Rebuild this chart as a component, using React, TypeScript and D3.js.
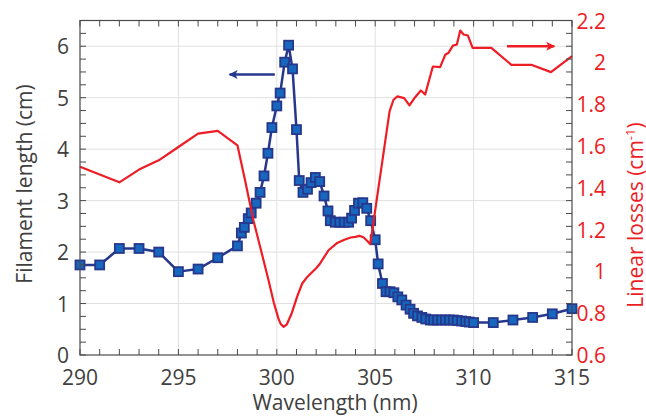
import React from "react";
import * as d3 from "d3";

const blueX = [290,291,292,293,294,295,296,297,298,298.2,298.35,298.55,298.7,298.95,299.15,299.35,299.55,299.75,300.0,300.17,300.4,300.6,300.8,301.0,301.14,301.33,301.56,301.74,301.96,302.18,302.4,302.6,302.72,302.97,303.2,303.43,303.65,303.8,303.95,304.15,304.37,304.57,304.77,305.0,305.15,305.37,305.55,305.75,305.95,306.15,306.35,306.57,306.77,306.95,307.15,307.37,307.57,307.8,307.97,308.17,308.37,308.57,308.77,308.97,309.17,309.39,309.6,309.78,310,311,312,313,314,315];
const blueY = [1.75,1.75,2.07,2.07,2.0,1.62,1.67,1.89,2.12,2.37,2.48,2.65,2.76,2.95,3.16,3.48,3.92,4.42,4.84,5.09,5.69,6.02,5.56,4.38,3.39,3.16,3.22,3.35,3.45,3.37,3.09,2.80,2.61,2.58,2.58,2.58,2.58,2.66,2.81,2.95,2.96,2.85,2.61,2.24,1.77,1.39,1.23,1.23,1.21,1.13,1.07,0.97,0.89,0.81,0.76,0.73,0.70,0.68,0.68,0.68,0.68,0.68,0.68,0.68,0.67,0.66,0.65,0.64,0.63,0.63,0.68,0.73,0.80,0.90];

const redX = [290,292,293,294,295,296,297,298.0,298.4,298.81,299.2,299.58,299.85,300.08,300.2,300.34,300.5,300.76,301.03,301.29,301.5,301.7,302.0,302.2,302.63,303.07,303.4,303.75,304.0,304.2,304.42,304.6,304.75,305.73,305.93,306.13,306.47,306.74,307.03,307.32,307.54,307.93,308.3,308.56,308.73,308.95,309.15,309.32,309.49,309.71,309.95,310.9,311.92,312.93,313.93,315];
const redY = [1.50,1.426,1.487,1.531,1.595,1.659,1.672,1.603,1.43,1.245,1.10,0.958,0.85,0.775,0.748,0.735,0.745,0.80,0.878,0.942,0.968,0.987,1.015,1.038,1.101,1.136,1.150,1.162,1.165,1.17,1.162,1.145,1.13,1.765,1.821,1.837,1.829,1.794,1.833,1.865,1.846,1.98,1.977,2.036,2.046,2.08,2.085,2.152,2.133,2.128,2.069,2.069,1.988,1.988,1.953,2.03];

const xTicks = [290,295,300,305,310,315];
const leftTicks = [0,1,2,3,4,5,6];
const rightTicks = [0.6,0.8,1,1.2,1.4,1.6,1.8,2,2.2];
const rightTickLabels = ["0.6","0.8","1","1.2","1.4","1.6","1.8","2","2.2"];
const gridX = [295,300,305,310];
const gridY = [1,2,3,4,5,6];

const W = 646, H = 416;
const L = 80, R = 572, T = 20.5, B = 355;
const FONT = "'Open Sans', 'Noto Sans', sans-serif";
const GRAY = "#404040";
const AX = "#4a4a4a";
const RED = "#ee1c25";
const NAVY = "#26388c";
const FILL = "#1667bd";

export default function App() {
  const x = d3.scaleLinear().domain([290, 315]).range([L, R]);
  const yL = d3.scaleLinear().domain([0, 6.5]).range([B, T]);
  const yR = d3.scaleLinear().domain([0.6, 2.2]).range([B, T]);

  const blue = blueX.map((v, i) => [v, blueY[i]] as [number, number]);
  const red = redX.map((v, i) => [v, redY[i]] as [number, number]);
  const blueLine = d3.line<[number, number]>().x(d => x(d[0])).y(d => yL(d[1]))(blue) || "";
  const redLine = d3.line<[number, number]>().x(d => x(d[0])).y(d => yR(d[1]))(red) || "";

  const xMinor = d3.range(290, 315.01, 1);
  const yMinor = d3.range(0, 6.51, 0.25);
  const tl = 6;
  const ms = 9;

  return (
    <svg width={W} height={H} style={{ position: "absolute", left: 0, top: 0, background: "#fff" }} fontFamily={FONT}>
      <defs>
        <marker id="ahL" viewBox="0 0 10 10" refX="9" refY="5" markerWidth="5.5" markerHeight="3.6" orient="auto" markerUnits="strokeWidth">
          <path d="M0,0 L10,5 L0,10 L2.5,5 z" fill={NAVY} />
        </marker>
        <marker id="ahR" viewBox="0 0 10 10" refX="9" refY="5" markerWidth="5.5" markerHeight="3.6" orient="auto" markerUnits="strokeWidth">
          <path d="M0,0 L10,5 L0,10 L2.5,5 z" fill={RED} />
        </marker>
      </defs>
      {gridX.map(g => (
        <line key={"gx" + g} x1={x(g)} x2={x(g)} y1={T} y2={B} stroke="#e0e0e0" strokeWidth={1} />
      ))}
      {gridY.map(g => (
        <line key={"gy" + g} x1={L} x2={R} y1={yL(g)} y2={yL(g)} stroke="#e0e0e0" strokeWidth={1} />
      ))}

      <path d={blueLine} fill="none" stroke={NAVY} strokeWidth={2.5} strokeLinejoin="round" />
      {blue.map((d, i) => (
        <rect key={"m" + i} x={x(d[0]) - ms / 2} y={yL(d[1]) - ms / 2} width={ms} height={ms} fill={FILL} stroke={NAVY} strokeWidth={1.8} />
      ))}

      <path d={redLine} fill="none" stroke={RED} strokeWidth={2.2} strokeLinejoin="round" />

      <line x1={x(299.9)} x2={x(297.6)} y1={yL(5.45)} y2={yL(5.45)} stroke={NAVY} strokeWidth={2.5} markerEnd="url(#ahL)" />
      <line x1={x(311.7)} x2={x(314.1)} y1={yL(6.0)} y2={yL(6.0)} stroke={RED} strokeWidth={2.5} markerEnd="url(#ahR)" />

      <rect x={L} y={T} width={R - L} height={B - T} fill="none" stroke={AX} strokeWidth={1.2} />
      {xMinor.map(v => (
        <g key={"xt" + v}>
          <line x1={x(v)} x2={x(v)} y1={B} y2={B - tl} stroke={AX} strokeWidth={1} />
          <line x1={x(v)} x2={x(v)} y1={T} y2={T + tl} stroke={AX} strokeWidth={1} />
        </g>
      ))}
      {yMinor.map(v => (
        <g key={"yt" + v}>
          <line x1={L} x2={L + tl} y1={yL(v)} y2={yL(v)} stroke={AX} strokeWidth={1} />
          <line x1={R} x2={R - tl} y1={yL(v)} y2={yL(v)} stroke={AX} strokeWidth={1} />
        </g>
      ))}

      {xTicks.map(v => (
        <text key={"xl" + v} x={x(v)} y={385} textAnchor="middle" fontSize={21} fill={GRAY}>{v}</text>
      ))}
      {leftTicks.map(v => (
        <text key={"ll" + v} x={69} y={yL(v) + 8} textAnchor="end" fontSize={21} fill={GRAY}>{v}</text>
      ))}
      {rightTicks.map((v, i) => (
        <text key={"rl" + v} x={606} y={yR(v) + 8} textAnchor="end" fontSize={21} fill={RED}>{rightTickLabels[i]}</text>
      ))}

      <text x={335} y={410} textAnchor="middle" fontSize={21} fill={GRAY}>Wavelength (nm)</text>
      <text transform="translate(32,184) rotate(-90)" textAnchor="middle" fontSize={21} fill={GRAY}>Filament length (cm)</text>
      <text transform="translate(643,215) rotate(-90)" textAnchor="middle" fontSize={21} fill={RED}>
        Linear losses (cm<tspan dy={-8} fontSize={13}>-1</tspan><tspan dy={8}>)</tspan>
      </text>
    </svg>
  );
}
